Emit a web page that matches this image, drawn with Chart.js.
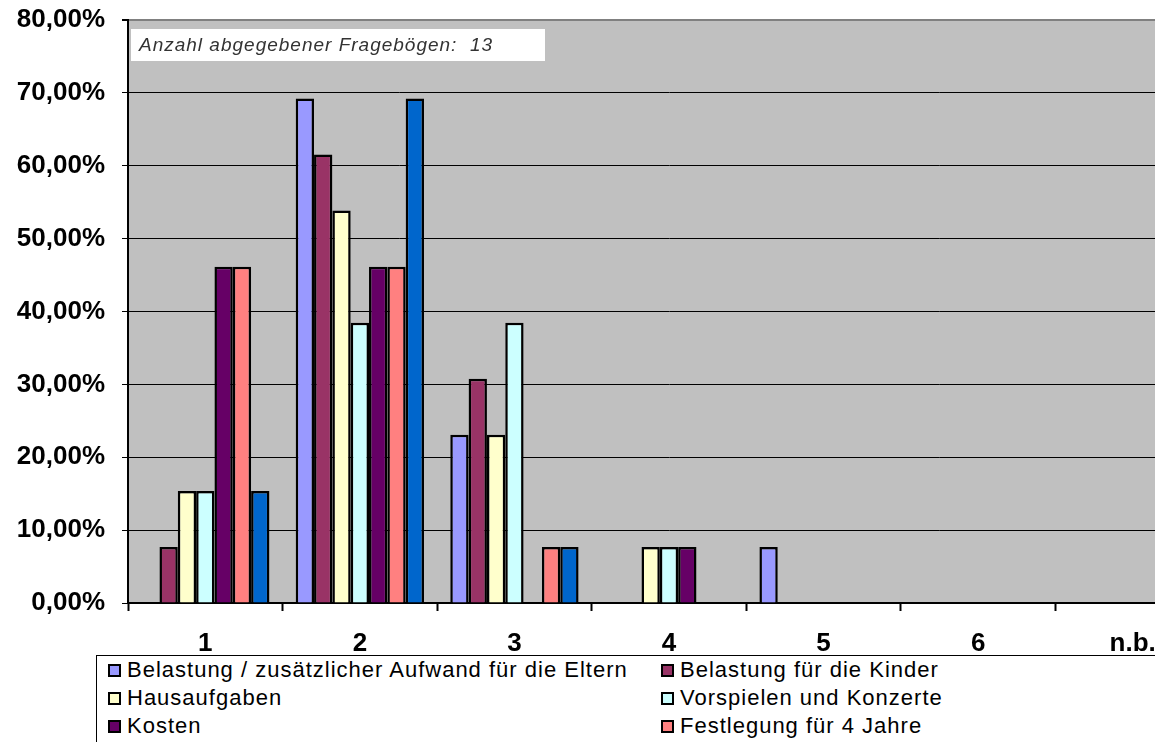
<!DOCTYPE html>
<html>
<head>
<meta charset="utf-8">
<script src="https://cdn.jsdelivr.net/npm/chart.js@4/dist/chart.umd.min.js"></script>
<style>
    html, body { margin: 0; padding: 0; background: #fff; overflow: hidden; }
    #wrap { position: relative; width: 1155px; height: 742px; overflow: hidden; }
    #chart { position: absolute; left: 0; top: 0; }
    #legend {
        position: absolute; left: 96px; top: 655px; width: 1100px; height: 120px;
        box-sizing: border-box; border: 1px solid #000; background: #fff;
        display: grid; grid-template-columns: 553px auto; grid-auto-rows: 28px;
        padding-left: 11px;
        font-family: "Liberation Sans", Arial, sans-serif; font-size: 22px; letter-spacing: 1px; color: #000;
    }
    .item { display: flex; align-items: center; white-space: nowrap; }
    .swatch { width: 13px; height: 13px; box-sizing: border-box; border: 2px solid #000; margin-right: 6px; flex: none; }
</style>
</head>
<body>
<div id="wrap">
    <canvas id="chart" width="1215" height="742"></canvas>
    <div id="legend"></div>
</div>
<script>
// categories and series (percent of 13 questionnaires)
const categories = ["1", "2", "3", "4", "5", "6", "n.b."];

const belastungEltern = [0, 69.23, 23.08, 0, 7.69, 0, 0];
const belastungKinder = [7.69, 61.54, 30.77, 0, 0, 0, 0];
const hausaufgaben    = [15.38, 53.85, 23.08, 7.69, 0, 0, 0];
const vorspielen      = [15.38, 38.46, 38.46, 7.69, 0, 0, 0];
const kosten          = [46.15, 46.15, 0, 7.69, 0, 0, 0];
const festlegung      = [46.15, 46.15, 7.69, 0, 0, 0, 0];
const siebteReihe     = [15.38, 69.23, 7.69, 0, 0, 0, 0];   // legend entry is cut off in the picture

const seriesLabels = [
    "Belastung / zusätzlicher Aufwand für die Eltern",
    "Belastung für die Kinder",
    "Hausaufgaben",
    "Vorspielen und Konzerte",
    "Kosten",
    "Festlegung für 4 Jahre",
    ""
];
const seriesColors = ["#9999FF", "#993366", "#FFFFCC", "#CCFFFF", "#660066", "#FF8080", "#0066CC"];
const seriesData = [belastungEltern, belastungKinder, hausaufgaben, vorspielen, kosten, festlegung, siebteReihe];

const noteText = "Anzahl abgegebener Fragebögen:  13";

// gray plot background + white note box
const plotBackground = {
    id: "plotBackground",
    beforeDraw(chart) {
        const { ctx, chartArea: a } = chart;
        ctx.save();
        ctx.fillStyle = "#C0C0C0";
        ctx.fillRect(a.left, a.top, a.right - a.left, a.bottom - a.top);
        ctx.restore();
    },
    afterDraw(chart) {
        const { ctx, chartArea: a } = chart;
        ctx.save();
        ctx.fillStyle = "#fff";
        ctx.fillRect(a.left + 3, a.top + 9, 414, 32);
        ctx.fillStyle = "#333";
        ctx.font = "italic 19px 'Liberation Sans', Arial, sans-serif";
        if ("letterSpacing" in ctx) ctx.letterSpacing = "1px";
        ctx.textBaseline = "middle";
        ctx.fillText(noteText, a.left + 11, a.top + 26);
        ctx.restore();
    }
};

new Chart(document.getElementById("chart"), {
    type: "bar",
    data: {
        labels: categories,
        datasets: seriesData.map((d, i) => ({
            label: seriesLabels[i],
            data: d,
            backgroundColor: seriesColors[i],
            borderColor: "#000",
            borderWidth: 2.5,
            categoryPercentage: 0.83,
            barPercentage: 1
        }))
    },
    options: {
        responsive: false,
        animation: false,
        layout: { padding: { top: 20, right: 5, left: 0, bottom: 0 } },
        plugins: { legend: { display: false }, tooltip: { enabled: false } },
        scales: {
            x: {
                afterFit: s => { s.height = 139; s.paddingLeft = 0; s.paddingRight = 0; },
                grid: { drawOnChartArea: false, tickLength: 8, tickColor: "#000", tickWidth: 2 },
                border: { color: "#000", width: 2 },
                ticks: {
                    color: "#000", padding: 17,
                    font: { family: "'Liberation Sans', Arial, sans-serif", size: 26, weight: "bold" }
                }
            },
            y: {
                min: 0, max: 80,
                afterFit: s => { s.width = 128; s.paddingTop = 0; s.paddingBottom = 0; },
                grid: {
                    color: ctx => ctx.tick && ctx.tick.value === 80 ? "#808080" : "#000",
                    lineWidth: ctx => ctx.tick && ctx.tick.value === 80 ? 2 : 1,
                    tickColor: "#000", tickLength: 6
                },
                border: { color: "#000", width: 2 },
                ticks: {
                    stepSize: 10, color: "#000", padding: 17,
                    font: { family: "'Liberation Sans', Arial, sans-serif", size: 26, weight: "bold" },
                    callback: v => v.toFixed(2).replace(".", ",") + "%"
                }
            }
        }
    },
    plugins: [plotBackground]
});

// legend as in the original: two columns, only named series
document.getElementById("legend").innerHTML = seriesLabels
    .map((label, i) => label
        ? `<div class="item"><span class="swatch" style="background:${seriesColors[i]}"></span>${label}</div>`
        : "")
    .join("");
</script>
</body>
</html>
